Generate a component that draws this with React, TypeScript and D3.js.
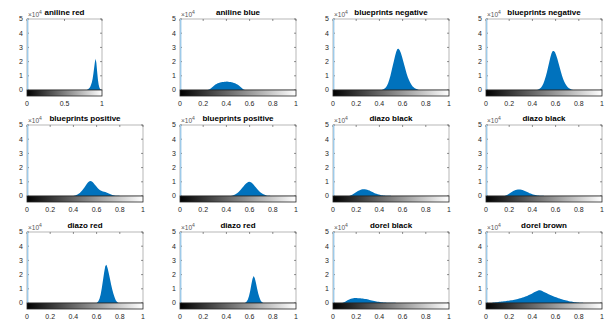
import React from "react";
import * as d3 from "d3";

// histogram panels, counts in thousands per 0.01 bin, first bin at START
const TITLES = [
  "aniline red", "aniline blue", "blueprints negative", "blueprints negative",
  "blueprints positive", "blueprints positive", "diazo black", "diazo black",
  "diazo red", "diazo red", "dorel black", "dorel brown",
];

const START = [0.8, 0.24, 0.42, 0.44, 0.4, 0.44, 0.14, 0.16, 0.6, 0.56, 0.08, 0.05];

const COUNTS: number[][] = [
  [0.3, 0.6, 1.0, 1.6, 2.5, 3.8, 5.5, 8, 11.5, 15.5, 19.5, 22, 19, 13, 7.5, 3.8, 1.8, 0.7, 0.2],
  [0.2, 0.5, 1.0, 1.7, 2.5, 3.2, 3.8, 4.3, 4.7, 5.0, 5.3, 5.5, 5.6, 5.7, 5.8, 5.8, 5.9, 5.8, 5.7, 5.6, 5.4, 5.2, 5.0, 4.7, 4.3, 3.9, 3.4, 2.7, 2.0, 1.2, 0.6, 0.2],
  [0.2, 0.5, 1.0, 1.8, 3.0, 4.8, 7.2, 10, 13.5, 17, 20.5, 24, 27, 28.8, 29, 28, 26, 23.5, 20.5, 17.5, 14.5, 11.5, 9, 7, 5.2, 3.8, 2.7, 1.9, 1.3, 0.8, 0.5, 0.2],
  [0.2, 0.5, 1.0, 1.8, 3.0, 4.6, 6.8, 9.5, 12.5, 16, 19.5, 23, 25.8, 27.5, 27.5, 26.5, 24.5, 22, 19, 16, 13, 10.2, 7.8, 5.8, 4.2, 3.0, 2.0, 1.3, 0.8, 0.4, 0.2],
  [0.2, 0.4, 0.7, 1.1, 1.6, 2.2, 3.0, 3.9, 4.9, 6.0, 7.2, 8.4, 9.5, 10.2, 10.5, 10.3, 9.8, 9.0, 8.0, 7.0, 6.0, 5.1, 4.4, 3.9, 3.5, 3.2, 3.0, 2.8, 2.5, 2.2, 1.8, 1.4, 1.0, 0.7, 0.5, 0.3, 0.2, 0.1, 0.1, 0.1],
  [0.2, 0.4, 0.7, 1.1, 1.6, 2.2, 2.9, 3.7, 4.6, 5.6, 6.6, 7.6, 8.5, 9.2, 9.7, 10.0, 9.9, 9.5, 8.8, 7.9, 6.9, 5.9, 4.9, 4.0, 3.2, 2.5, 1.9, 1.4, 1.0, 0.7, 0.4, 0.2, 0.1, 0.1],
  [0.2, 0.5, 0.9, 1.4, 1.9, 2.5, 3.0, 3.5, 3.9, 4.2, 4.5, 4.7, 4.8, 4.7, 4.6, 4.4, 4.1, 3.8, 3.4, 3.0, 2.6, 2.2, 1.8, 1.5, 1.2, 1.0, 0.8, 0.6, 0.5, 0.4, 0.3, 0.2, 0.2, 0.1, 0.1, 0.1, 0.05],
  [0.2, 0.5, 0.9, 1.4, 1.9, 2.5, 3.0, 3.5, 3.9, 4.2, 4.4, 4.6, 4.6, 4.5, 4.4, 4.2, 3.9, 3.6, 3.2, 2.8, 2.4, 2.0, 1.7, 1.4, 1.1, 0.9, 0.7, 0.5, 0.4, 0.3, 0.2, 0.2, 0.1, 0.1, 0.05],
  [0.3, 1.2, 3, 6, 10.5, 16, 21.5, 26, 27, 24.5, 21, 17, 13, 9.5, 6.5, 4, 2, 0.8, 0.2],
  [0.3, 1.0, 2.5, 5, 8.5, 13, 17, 19, 17.5, 14, 10, 6.5, 3.8, 1.8, 0.7, 0.2],
  [0.2, 0.5, 0.9, 1.4, 1.9, 2.3, 2.7, 3.0, 3.2, 3.4, 3.5, 3.5, 3.5, 3.4, 3.4, 3.3, 3.2, 3.1, 3.0, 2.9, 2.8, 2.6, 2.4, 2.2, 2.0, 1.8, 1.6, 1.4, 1.2, 1.0, 0.9, 0.8, 0.7, 0.6, 0.5, 0.4, 0.3, 0.3, 0.2, 0.2, 0.1, 0.1, 0.1, 0.1, 0.1, 0.1, 0.05, 0.05],
  [0.2, 0.3, 0.4, 0.5, 0.6, 0.7, 0.8, 0.9, 1.0, 1.1, 1.2, 1.3, 1.4, 1.5, 1.6, 1.7, 1.9, 2.0, 2.2, 2.3, 2.5, 2.7, 2.9, 3.1, 3.3, 3.5, 3.8, 4.1, 4.4, 4.7, 5.0, 5.4, 5.8, 6.2, 6.6, 7.0, 7.5, 7.9, 8.3, 8.6, 8.9, 9.0, 8.8, 8.4, 8.0, 7.6, 7.2, 6.8, 6.4, 6.0, 5.6, 5.2, 4.9, 4.6, 4.3, 4.0, 3.7, 3.4, 3.1, 2.8, 2.6, 2.3, 2.1, 1.9, 1.7, 1.5, 1.3, 1.1, 1.0, 0.8, 0.7, 0.6, 0.5, 0.4, 0.3, 0.2, 0.2, 0.1, 0.1],
];

// count of the black (0) bin, far above the axis limit
const ZERO_BIN = 120;

const Y_TICKS = [0, 1, 2, 3, 4, 5];
const X_TICKS = [0, 0.2, 0.4, 0.6, 0.8, 1];
const X_TICKS_NARROW = [0, 0.5, 1];

const COL_LEFT = [27, 180, 333, 486];
const ROW_TOP = [19, 125, 232];
const ROW_ZERO = [90, 196, 303];

const BLUE = "#0072BD";
const AXC = "#262626";
const FONT = "'Liberation Sans', Arial, Helvetica, sans-serif";

function Panel({ i }: { i: number }) {
  const row = Math.floor(i / 4);
  const col = i % 4;
  const left = COL_LEFT[col];
  const w = i === 0 ? 75 : 116;
  const top = ROW_TOP[row];
  const zero = ROW_ZERO[row];
  const cbH = 6;
  const ticks = i === 0 ? X_TICKS_NARROW : X_TICKS;

  const x = d3.scaleLinear().domain([0, 1]).range([left, left + w]);
  const y = d3.scaleLinear().domain([0, 50]).range([zero, top]);

  const pts: [number, number][] = [[START[i], 0]];
  COUNTS[i].forEach((c, k) => pts.push([START[i] + k * 0.01 + 0.005, c]));
  pts.push([START[i] + COUNTS[i].length * 0.01, 0]);

  const area = d3.area<[number, number]>()
    .x(d => x(d[0]))
    .y0(y(0))
    .y1(d => y(d[1]))
    .curve(d3.curveLinear);

  const clipId = `clip${i}`;
  const tl = 2;

  return (
    <g>
      <defs>
        <clipPath id={clipId}>
          <rect x={left} y={top} width={w} height={zero - top} />
        </clipPath>
      </defs>
      <rect x={left} y={top} width={w} height={zero - top} fill="#fff" />
      <g clipPath={`url(#${clipId})`}>
        <path d={area(pts) || ""} fill={BLUE} />
        <line x1={x(0) + 0.6} x2={x(0) + 0.6} y1={y(0)} y2={y(ZERO_BIN)} stroke={BLUE} strokeOpacity={0.55} strokeWidth={1.2} />
      </g>
      {Y_TICKS.map(t => (
        <g key={"y" + t}>
          <line x1={left} x2={left + tl} y1={y(t * 10)} y2={y(t * 10)} stroke={AXC} strokeWidth={0.5} />
          <line x1={left + w} x2={left + w - tl} y1={y(t * 10)} y2={y(t * 10)} stroke={AXC} strokeWidth={0.5} />
          <text x={left - 4} y={y(t * 10)} dy="0.35em" textAnchor="end" fontSize={7} fill={AXC} fontFamily={FONT}>{t}</text>
        </g>
      ))}
      {ticks.map(t => (
        <line key={"xt" + t} x1={x(t)} x2={x(t)} y1={top} y2={top + tl} stroke={AXC} strokeWidth={0.5} />
      ))}
      <rect x={left} y={top} width={w} height={zero - top} fill="none" stroke={AXC} strokeOpacity={0.55} strokeWidth={0.6} />
      <line x1={x(0) + 0.6} x2={x(0) + 0.6} y1={top} y2={zero} stroke="#9ecae9" strokeWidth={1.2} />
      {/* colorbar */}
      <rect x={left} y={zero} width={w} height={cbH} fill="url(#grayGrad)" stroke={AXC} strokeWidth={0.8} />
      {ticks.map(t => (
        <text key={"xl" + t} x={x(t)} y={zero + 14} dy="0.35em" textAnchor="middle" fontSize={7} fill={AXC} fontFamily={FONT}>{t}</text>
      ))}
      <text x={left + 1} y={top - 2} fontSize={6.5} fill="#555" fontFamily={FONT}>
        ×10<tspan dy={-3} fontSize={5}>4</tspan>
      </text>
      <text x={left + w / 2} y={top - 4} textAnchor="middle" fontSize={8} fontWeight="bold" fill="#000" fontFamily={FONT}>
        {TITLES[i]}
      </text>
    </g>
  );
}

export default function App() {
  return (
    <svg width={605} height={324} style={{ position: "absolute", left: 0, top: 0, background: "#fff" }}>
      <defs>
        <linearGradient id="grayGrad" x1="0" x2="1" y1="0" y2="0">
          <stop offset="0" stopColor="#000" />
          <stop offset="1" stopColor="#fff" />
        </linearGradient>
      </defs>
      {TITLES.map((_, i) => <Panel key={i} i={i} />)}
    </svg>
  );
}
